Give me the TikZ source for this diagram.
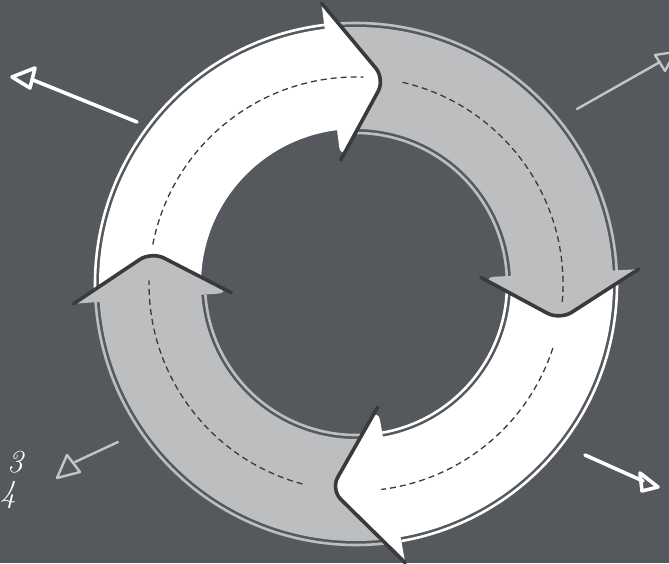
\documentclass[tikz,border=0pt]{standalone}
\usetikzlibrary{calc}
\definecolor{board}{HTML}{55585D}
\definecolor{segwhite}{HTML}{FFFFFF}
\definecolor{seggray}{HTML}{BDBEC0}
\definecolor{edgedark}{HTML}{3A3A3C}
\definecolor{chalkgray}{HTML}{C4C5C7}
\tikzset{
  ringline/.style={line width=2.6pt},
  headedge/.style={draw=edgedark, line width=3.6pt, line cap=round, line join=round, rounded corners=14pt},
  midline/.style={draw=edgedark, line width=1.3pt, dash pattern=on 6pt off 4pt},
  chalk/.style={line width=3.6pt, line cap=round, line join=round},
  chalkthin/.style={line width=2.4pt, line cap=round, line join=round},
}
\newcommand{\ringseg}[3]{% color, from, to
  \fill[#1] (#2:257) arc[start angle=#2, end angle=#3, radius=257]
    -- (#3:155) arc[start angle=#3, end angle=#2, radius=155] -- cycle;}
\newcommand{\ringhead}[3]{% color, back, tip
  \fill[#1, rounded corners=14pt] (#2:283) -- (#3:207) -- (#2:125) [sharp corners] -- cycle;
  \path[headedge] (#2:283) -- (#3:207) -- (#2:125);}
\begin{document}
\begin{tikzpicture}[x=1pt,y=1pt]
\useasboundingbox (0,0) rectangle (669,563);
\fill[board] (0,0) rectangle (669,563);
\begin{scope}[shift={(356,279)}]
  % bodies: each tail starts under the previous head, each end runs under its own head
  \ringseg{segwhite}{182.5}{94}
  \ringseg{seggray}{95.5}{0}
  \ringseg{segwhite}{1.5}{-83}
  \ringseg{seggray}{278.5}{181}
  % parallel outline strokes
  \draw[ringline, segwhite] (184:261) arc[start angle=184, end angle=97, radius=261];
  \draw[ringline, seggray] (97:261) arc[start angle=97, end angle=3, radius=261];
  \draw[ringline, seggray] (97:151) arc[start angle=97, end angle=3, radius=151];
  \draw[ringline, segwhite] (3:261) arc[start angle=3, end angle=-80, radius=261];
  \draw[ringline, segwhite] (3:151) arc[start angle=3, end angle=-80, radius=151];
  \draw[ringline, seggray] (280:261) arc[start angle=280, end angle=184, radius=261];
  \draw[ringline, seggray] (280:151) arc[start angle=280, end angle=184, radius=151];
  % heads
  \ringhead{segwhite}{97}{82}
  \ringhead{seggray}{3}{-10}
  \ringhead{segwhite}{280}{263}
  \ringhead{seggray}{184}{171}
  % dashed centre lines
  \draw[midline] (169:207) arc[start angle=169, end angle=88, radius=207];
  \draw[midline] (77:207) arc[start angle=77, end angle=-5, radius=207];
  \draw[midline] (-18:207) arc[start angle=-18, end angle=-83, radius=207];
  \draw[midline] (255:207) arc[start angle=255, end angle=179, radius=207];
\end{scope}
% corner chalk arrows
\coordinate (tlS) at (137,441); \coordinate (tlE) at (33,483);
\draw[chalk, white] (tlS) -- (tlE);
\draw[chalk, white] (12,486) -- (35,495) -- (30,475) -- cycle;
\coordinate (trS) at (577,454); \coordinate (trE) at (660,501);
\draw[chalkthin, chalkgray] (trS) -- (trE);
\draw[chalkthin, chalkgray] (675,511) -- (655,508) -- (665,492) -- cycle;
\coordinate (brS) at (585,108); \coordinate (brE) at (643,82);
\draw[chalk, white] (brS) -- (brE);
\draw[chalk, white] (658,76) -- (640,90) -- (642,72) -- cycle;
\coordinate (blS) at (118,121); \coordinate (blE) at (75,101);
\draw[chalkthin, chalkgray] (blS) -- (blE);
\draw[chalkthin, chalkgray] (57,85) -- (67,108) -- (80,91) -- cycle;
% label at the left edge
\node[anchor=north west, text=white, inner sep=0pt, align=left,
      font=\itshape\fontsize{32}{30}\selectfont] (lbl) at (0,112) {\hspace*{7pt}3\\4};
\end{tikzpicture}
\end{document}
